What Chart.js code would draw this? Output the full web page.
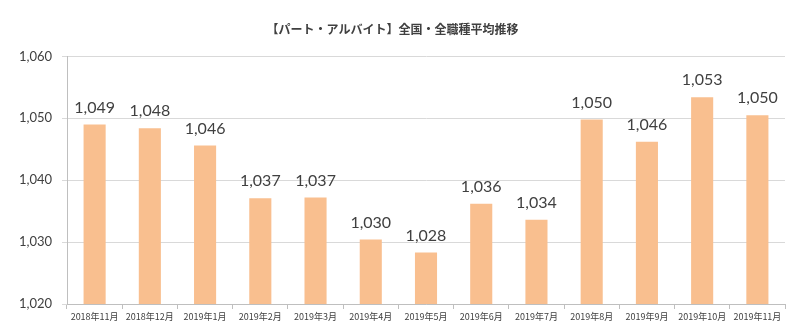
<!DOCTYPE html>
<html>
<head>
<meta charset="utf-8">
<script src="https://cdn.jsdelivr.net/npm/chart.js@4"></script>
<style>
  body { margin: 0; background: #fff; }
  #wrap { width: 800px; height: 333px; }
</style>
</head>
<body>
<div id="wrap"><canvas id="chart" width="800" height="333"></canvas></div>
<script>
// months on the x axis
const months = ['2018年11月', '2018年12月', '2019年1月', '2019年2月', '2019年3月', '2019年4月',
  '2019年5月', '2019年6月', '2019年7月', '2019年8月', '2019年9月', '2019年10月', '2019年11月'];
// bar heights
const wages = [1049.0, 1048.4, 1045.6, 1037.1, 1037.2, 1030.4, 1028.3, 1036.2, 1033.6, 1049.8, 1046.2, 1053.4, 1050.5];
// labels printed above the bars
const wageLabels = ['1,049', '1,048', '1,046', '1,037', '1,037', '1,030', '1,028', '1,036', '1,034', '1,050', '1,046', '1,053', '1,050'];
const yTicks = [1020, 1030, 1040, 1050, 1060];

const numFont = "Lato, 'Noto Sans', sans-serif";
const jpFont = "'Noto Sans CJK JP', sans-serif";

// value labels above each bar
const barLabels = {
  id: 'barLabels',
  afterDatasetsDraw(chart) {
    const ctx = chart.ctx;
    const meta = chart.getDatasetMeta(0);
    ctx.save();
    ctx.font = '16px ' + numFont;
    ctx.fillStyle = '#404040';
    ctx.textAlign = 'center';
    ctx.textBaseline = 'bottom';
    meta.data.forEach((bar, i) => {
      ctx.fillText(wageLabels[i], bar.x, bar.y - 9);
    });
    ctx.restore();
  }
};

new Chart(document.getElementById('chart'), {
  type: 'bar',
  data: {
    labels: months,
    datasets: [{
      data: wages,
      backgroundColor: '#F9BF8F',
      borderWidth: 0,
      categoryPercentage: 1,
      barPercentage: 0.4
    }]
  },
  plugins: [barLabels],
  options: {
    responsive: false,
    animation: false,
    layout: { padding: { left: 0, right: 15, top: 0, bottom: 0 } },
    plugins: {
      legend: { display: false },
      tooltip: { enabled: false },
      title: {
        display: true,
        text: '【パート・アルバイト】全国・全職種平均推移',
        color: '#404040',
        font: { family: jpFont, size: 12, weight: 'bold' },
        padding: { top: 22, bottom: 20 }
      }
    },
    scales: {
      x: {
        grid: { drawOnChartArea: false, drawTicks: true, tickLength: 5, color: '#bfbfbf' },
        border: { color: '#bfbfbf' },
        ticks: {
          color: '#404040',
          font: { family: jpFont, size: 9 },
          maxRotation: 0,
          autoSkip: false,
          padding: 2
        },
        afterFit(scale) { scale.height = 29; }
      },
      y: {
        min: 1020,
        max: 1060,
        afterBuildTicks(scale) { scale.ticks = yTicks.map(v => ({ value: v })); },
        grid: { color: '#d9d9d9', tickLength: 5 },
        border: { color: '#bfbfbf' },
        ticks: {
          color: '#404040',
          font: { family: numFont, size: 13 },
          padding: 10,
          callback: v => v.toLocaleString('en-US')
        },
        afterFit(scale) { scale.width = 67; }
      }
    }
  }
});
</script>
</body>
</html>
